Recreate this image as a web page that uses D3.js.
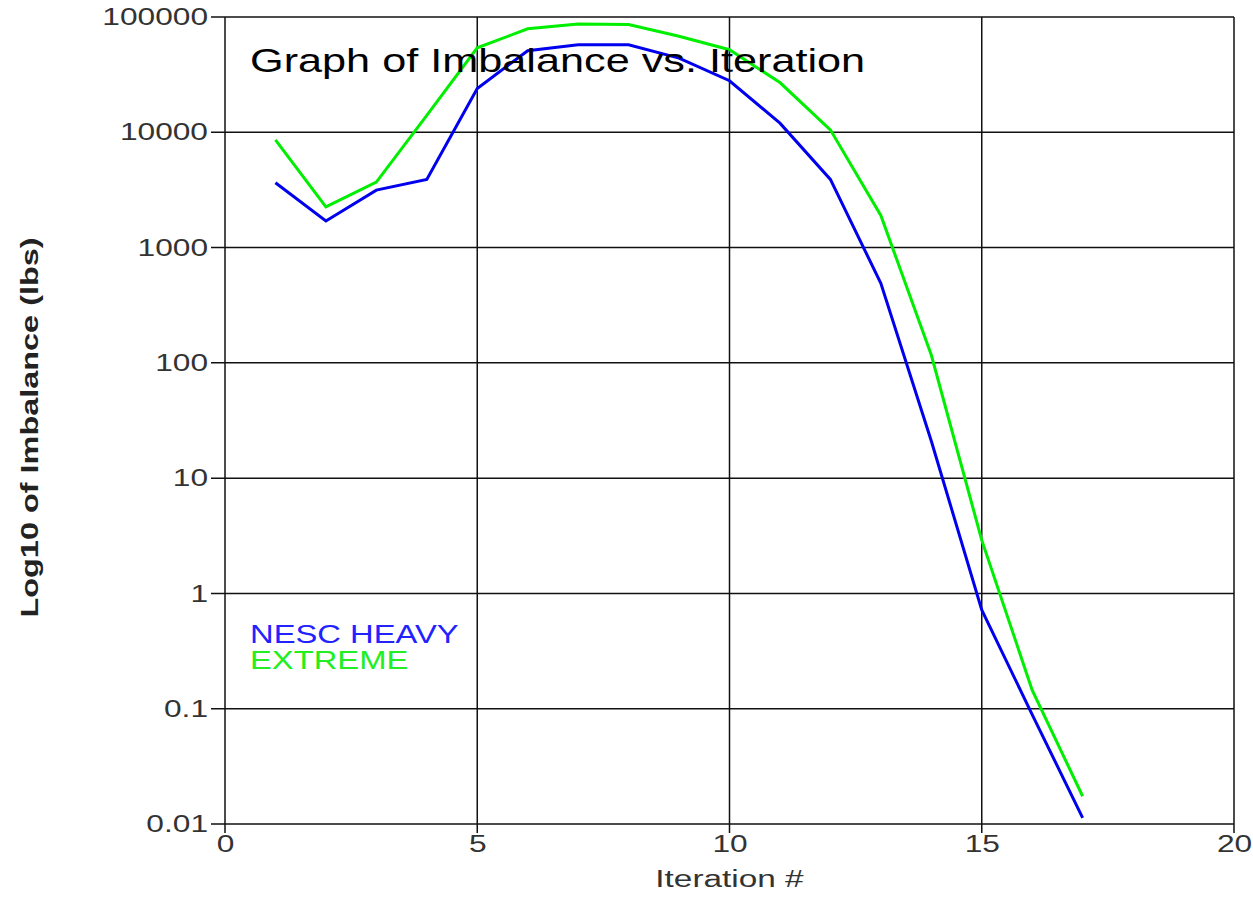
<!DOCTYPE html>
<html>
<head>
<meta charset="utf-8">
<script src="https://cdn.jsdelivr.net/npm/d3@7"></script>
<style>
body { margin: 0; background: #fff; }
text { font-family: "Liberation Sans", Arial, sans-serif; }
</style>
</head>
<body>
<script>
// values
var iterations = [1, 2, 3, 4, 5, 6, 7, 8, 9, 10, 11, 12, 13, 14, 15, 16, 17];
var nescHeavy = [3650, 1700, 3150, 3900, 24000, 51000, 57500, 57500, 44000, 28000, 12000, 3900, 490, 21, 0.72, 0.089, 0.0113];
var extreme = [8600, 2250, 3700, 14000, 54000, 79000, 87000, 86000, 68000, 52000, 27000, 10500, 1900, 117, 2.9, 0.145, 0.0174];
var xTicks = [0, 5, 10, 15, 20];
var yTicks = [0.01, 0.1, 1, 10, 100, 1000, 10000, 100000];
var yTickLabels = ["0.01", "0.1", "1", "10", "100", "1000", "10000", "100000"];

var W = 1253, H = 921;
var margin = {left: 225, right: 19, top: 17, bottom: 97 },
    width = W - margin.left - margin.right,
    height = H - margin.top - margin.bottom;

var svg = d3.select("body")
    .append("svg")
    .attr("width", W)
    .attr("height", H);

var g = svg.append("g")
    .attr("transform", "translate(" + margin.left + "," + margin.top + ")");

// the original font is wider than Liberation Sans, so stretch text a bit
function stretch(sel, f) {
    sel.each(function () {
        var len = this.getComputedTextLength();
        d3.select(this)
            .attr("textLength", len * f)
            .attr("lengthAdjust", "spacingAndGlyphs");
    });
}

var x = d3.scaleLinear().domain([0, 20]).range([0, width]);
var y = d3.scaleLog().domain([0.01, 100000]).range([height, 0]);

// grid
g.selectAll(".hgrid")
    .data(yTicks)
    .enter().append("line")
    .attr("x1", -14).attr("x2", width)
    .attr("y1", function (d) { return y(d); })
    .attr("y2", function (d) { return y(d); })
    .attr("stroke", "#111").attr("stroke-width", 1.5);

g.selectAll(".vgrid")
    .data(xTicks)
    .enter().append("line")
    .attr("x1", function (d) { return x(d); })
    .attr("x2", function (d) { return x(d); })
    .attr("y1", 0).attr("y2", height + 9)
    .attr("stroke", "#111").attr("stroke-width", 1.5);

// axes (labels only, ticks drawn above)
var yAxis = g.append("g")
    .call(d3.axisLeft(y).tickValues(yTicks)
        .tickFormat(function (d, i) { return yTickLabels[i]; })
        .tickSize(0).tickPadding(17));
yAxis.select(".domain").remove();
yAxis.selectAll("text")
    .attr("font-size", 24)
    .attr("fill", "#333")
    .attr("font-family", "Liberation Sans, Arial, sans-serif");
stretch(yAxis.selectAll("text"), 1.32);

var xAxis = g.append("g")
    .attr("transform", "translate(0," + height + ")")
    .call(d3.axisBottom(x).tickValues(xTicks).tickSize(0).tickPadding(11));
xAxis.select(".domain").remove();
xAxis.selectAll("text")
    .attr("font-size", 24)
    .attr("fill", "#333")
    .attr("font-family", "Liberation Sans, Arial, sans-serif");
stretch(xAxis.selectAll("text"), 1.32);

// lines
var line = d3.line()
    .x(function (d) { return x(d[0]); })
    .y(function (d) { return y(d[1]); });

g.append("path")
    .datum(d3.zip(iterations, extreme))
    .attr("d", line)
    .attr("fill", "none")
    .attr("stroke", "#00ee00")
    .attr("stroke-width", 3);

g.append("path")
    .datum(d3.zip(iterations, nescHeavy))
    .attr("d", line)
    .attr("fill", "none")
    .attr("stroke", "#0000ee")
    .attr("stroke-width", 3);

// title
var title = g.append("text")
    .attr("x", 25)
    .attr("y", 55)
    .attr("font-size", 33)
    .attr("fill", "#000")
    .text("Graph of Imbalance vs. Iteration");
stretch(title, 1.31);

// legend
var leg1 = g.append("text")
    .attr("x", 25).attr("y", 626)
    .attr("font-size", 25)
    .attr("fill", "#2222ff")
    .text("NESC HEAVY");
var leg2 = g.append("text")
    .attr("x", 25).attr("y", 652)
    .attr("font-size", 25)
    .attr("fill", "#22ee22")
    .text("EXTREME");
stretch(leg1, 1.31);
stretch(leg2, 1.31);

// axis titles
var yTitle = svg.append("text")
    .attr("transform", "translate(38," + (margin.top + height / 2 + 7) + ") rotate(-90)")
    .attr("text-anchor", "middle")
    .attr("font-size", 23)
    .attr("font-weight", "bold")
    .attr("fill", "#222")
    .text("Log10 of Imbalance (lbs)");
stretch(yTitle, 1.41);

var xTitle = svg.append("text")
    .attr("x", margin.left + x(10))
    .attr("y", 887)
    .attr("text-anchor", "middle")
    .attr("font-size", 23)
    .attr("fill", "#333")
    .text("Iteration #");
stretch(xTitle, 1.45);
</script>
</body>
</html>
